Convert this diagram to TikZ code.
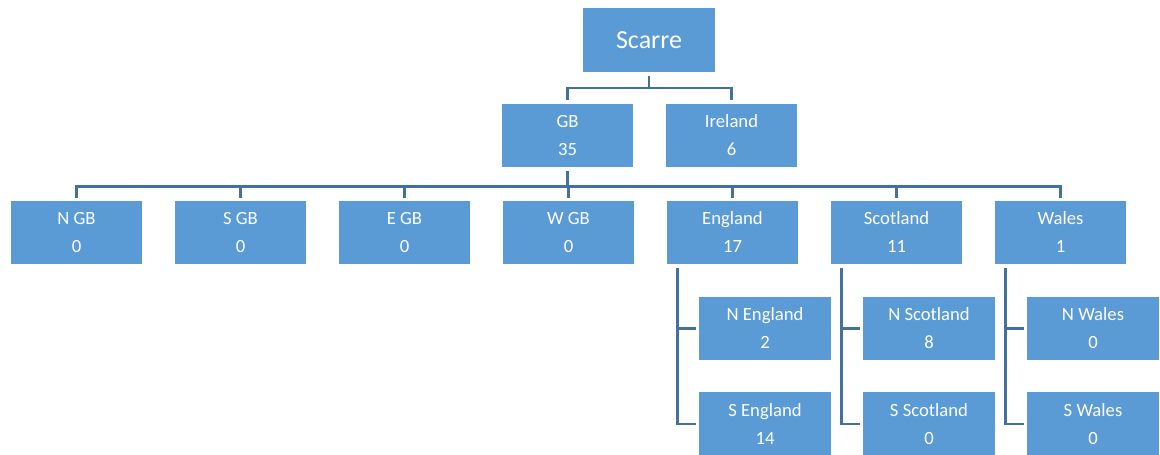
\documentclass[tikz,border=0pt]{standalone}
\usepackage{fontspec}
\setmainfont{Carlito}
\usetikzlibrary{positioning}
\definecolor{boxblue}{HTML}{5B9BD5}
\definecolor{lineblue}{HTML}{41719C}
\tikzset{
  unit/.style={draw=white, line width=0.8pt, fill=boxblue, text=white, align=center,
    minimum width=99.75pt, minimum height=48.75pt, inner sep=0pt,
    font=\fontsize{14}{21}\selectfont},
  link/.style={draw=lineblue, line width=1.9pt},
}
\begin{document}
\begin{tikzpicture}[x=0.75pt, y=-0.75pt]
    \useasboundingbox (0,0) rectangle (1160,454);

    % Top of the tree
    \node[unit, font=\fontsize{19.5}{24}\selectfont] (scarre) at (649,40) {Scarre};
    \node[unit] (gb) at (567.5,135.5) {GB\\35};
    \node[unit] (ireland) at (731.5,135.5) {Ireland\\6};

    % Second row
    \foreach \name/\txt/\num [count=\k from 0] in {ngb/N GB/0, sgb/S GB/0, egb/E GB/0, wgb/W GB/0,
        england/England/17, scotland/Scotland/11, wales/Wales/1} {
      \node[unit] (\name) at (76.5+164*\k,232.5) {\txt\\\num};
    }

    % Third row
    \node[unit] (nengland) at (765,328.5) {N England\\2};
    \node[unit] (sengland) at (765,424) {S England\\14};
    \node[unit] (nscotland) at (929,328.5) {N Scotland\\8};
    \node[unit] (sscotland) at (929,424) {S Scotland\\0};
    \node[unit] (nwales) at (1093,328.5) {N Wales\\0};
    \node[unit] (swales) at (1093,424) {S Wales\\0};

    % Connectors
    \foreach \c in {gb,ireland}
      \draw[link, shorten <=2pt, shorten >=2pt] (scarre.south) -- ++(0,15) -| (\c.north);
    \foreach \c in {ngb,sgb,egb,wgb,england,scotland,wales}
      \draw[link, shorten <=2pt, shorten >=1pt] (gb.south) -- ++(0,18) -| (\c.north);
    \foreach \p/\a/\b in {england/nengland/sengland, scotland/nscotland/sscotland, wales/nwales/swales} {
      \draw[link, shorten <=2pt, shorten >=1.5pt] ([xshift=9pt]\p.south west) |- (\a.west);
      \draw[link, shorten <=2pt, shorten >=1.5pt] ([xshift=9pt]\p.south west) |- (\b.west);
    }

\end{tikzpicture}
\end{document}
